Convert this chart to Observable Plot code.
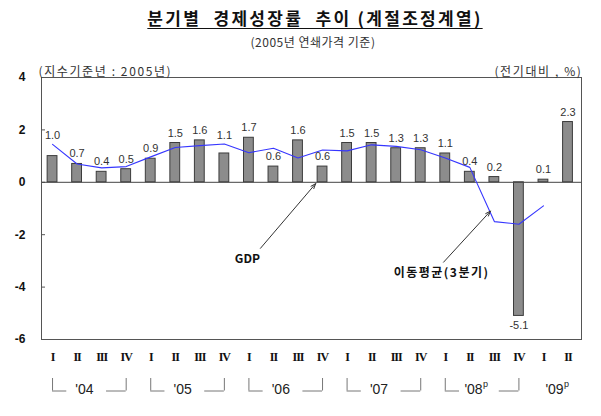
<!DOCTYPE html>
<html>
<head>
<meta charset="utf-8">
<script src="https://cdn.jsdelivr.net/npm/d3@7"></script>
<script src="https://cdn.jsdelivr.net/npm/@observablehq/plot@0.6"></script>
<style>
  body { margin: 0; background: #fff; }
  #wrap { width: 601px; height: 416px; position: relative; background: #fff; }
  #head { position: relative; width: 601px; height: 50px; }
  #title { position: absolute; left: 0; width: 630px; top: 8px; text-align: center;
    font-family: "Noto Sans CJK KR", sans-serif; font-weight: 700; font-size: 17px; line-height: 20px;
    letter-spacing: 2.3px; color: #111; }
  #title span { text-decoration: underline; text-underline-offset: 3px; text-decoration-thickness: 1px; }
  #subtitle { position: absolute; left: 0; width: 626px; top: 34px; text-align: center;
    font-family: "Noto Sans CJK KR", sans-serif; font-size: 12px; line-height: 16px; color: #333; letter-spacing: 0.5px; }
  g[aria-label="x-axis tick label"] text { letter-spacing: -1px; }
</style>
</head>
<body>
<div id="wrap">
  <div id="head">
    <div id="title"><span>분기별&nbsp; 경제성장률&nbsp; 추이 (계절조정계열)</span></div>
    <div id="subtitle">(2005년 연쇄가격 기준)</div>
  </div>
  <div id="chart"></div>
</div>
<script>
// ---- data ----
const quarterLabels = ["I","II","III","IV","I","II","III","IV","I","II","III","IV",
                       "I","II","III","IV","I","II","III","IV","I","II"];
const yearLabels = ["'04","'05","'06","'07","'08","'09"];
const yearPrelim = [false, false, false, false, true, true];
const gdp = [1.0, 0.7, 0.4, 0.5, 0.9, 1.5, 1.6, 1.1, 1.7, 0.6, 1.6, 0.6,
             1.5, 1.5, 1.3, 1.3, 1.1, 0.4, 0.2, -5.1, 0.1, 2.3];
const movingAvg = [1.45, 0.7, 0.55, 0.6, 0.97, 1.33, 1.4, 1.46, 1.13, 1.3, 0.93, 1.23,
                   1.2, 1.43, 1.37, 1.24, 0.93, 0.57, -1.5, -1.6, -0.9, null];
const yTicks = [-6, -4, -2, 0, 2, 4];
const leftNote = "(지수기준년 : 2005년)";
const rightNote = "(전기대비 , %)";
const annotations = [
  {label: "GDP", tx: 7.94, ty: -2.92, x1: 8.47, y1: -2.52, x2: 10.72, y2: -0.05},
  {label: "이동평균(3분기)", tx: 15.85, ty: -3.47, x1: 15.93, y1: -3.05, x2: 17.84, y2: -1.1}
];

// ---- layout ----
const W = 601, H = 366;
const mTop = 27, mBottom = 77, mLeft = 41, mRight = 20;
const pxPerUnit = (H - mTop - mBottom) / 10;
const px = p => p / pxPerUnit;          // pixels -> y data units
const yBr1 = -6 - px(39), yBr2 = -6 - px(51.5), yYear = -6 - px(50);

const rows = gdp.map((v, i) => ({i, q: quarterLabels[i], v, ma: movingAvg[i]}));
rows.forEach(d => {
  if (d.v >= 0) {
    let ly = d.v + px(10);
    if (d.ma != null && Math.abs(ly - d.ma) < px(5.5)) ly = d.ma + px(9);
    d.ly = ly;
  } else d.ly = d.v - px(10);
});

const years = yearLabels.map((label, k) => ({label, k, i0: 4 * k, i3: 4 * k + 3, p: yearPrelim[k]}));
const bracketYears = years.filter(d => d.k < 5);
const yearPos = d => d.k < 5 ? 4 * d.k + (d.p ? 1.15 : 1.3) : 20.45;

const font = "'Liberation Sans', 'Noto Sans CJK KR', sans-serif";
const krFont = "'Noto Sans CJK KR', sans-serif";

const chart = Plot.plot({
  width: W, height: H,
  marginTop: mTop, marginBottom: mBottom, marginLeft: mLeft, marginRight: mRight,
  style: {fontFamily: font, background: "#fff", overflow: "visible"},
  x: {type: "linear", domain: [-0.45, 21.55]},
  y: {domain: [-6, 4]},
  marks: [
    Plot.axisY({ticks: yTicks, tickSize: 0, tickPadding: 16, tickFormat: d => String(d),
      fontWeight: "bold", fontSize: 12, fill: "#111", label: null}),
    Plot.axisY({ticks: yTicks, tickSize: 4, dx: 4, tickFormat: () => "", stroke: "#555", label: null}),
    Plot.axisX({ticks: d3.range(22), tickSize: 0, tickPadding: 13, tickFormat: d => quarterLabels[d],
      fontFamily: "'Liberation Serif', serif", fontWeight: "bold", fontSize: 12, fill: "#111", label: null}),
    Plot.rect(rows, {x1: d => d.i - 0.2, x2: d => d.i + 0.2, y1: 0, y2: "v",
      fill: "#8c8c8c", stroke: "#3c3c3c", strokeWidth: 1}),
    Plot.ruleY([0], {stroke: "#444", strokeWidth: 1}),
    Plot.line(rows.filter(d => d.ma != null), {x: "i", y: "ma", stroke: "#3636ff", strokeWidth: 1.1}),
    Plot.text(rows, {x: "i", y: "ly", text: d => d.v.toFixed(1), fontSize: 11, fill: "#333"}),
    Plot.frame({stroke: "#555", strokeWidth: 1}),
    // annotations
    Plot.arrow(annotations, {x1: "x1", y1: "y1", x2: "x2", y2: "y2", stroke: "#333",
      strokeWidth: 1, headLength: 8, headAngle: 40}),
    Plot.text(annotations, {x: "tx", y: "ty", text: "label", fontWeight: "bold", fontSize: 12,
      fill: "#111", fontFamily: krFont}),
    // unit notes
    Plot.text([leftNote], {frameAnchor: "top-left", textAnchor: "start", dx: -3, dy: -10,
      fontSize: 12, fill: "#333", fontFamily: krFont}),
    Plot.text([rightNote], {frameAnchor: "top-right", textAnchor: "end", dx: 1, dy: -10,
      fontSize: 12, fill: "#333", fontFamily: krFont}),
    // year brackets
    Plot.ruleX(bracketYears, {x: "i0", y1: yBr1, y2: yBr2, stroke: "#777"}),
    Plot.ruleX(bracketYears, {x: "i3", y1: yBr1, y2: yBr2, stroke: "#777"}),
    Plot.ruleY(bracketYears, {y: yBr2, x1: "i0", x2: d => d.i0 + 0.58, stroke: "#777"}),
    Plot.ruleY(bracketYears, {y: yBr2, x1: d => d.i3 - 0.8, x2: "i3", stroke: "#777"}),
    Plot.text(years, {x: yearPos, y: yYear, text: "label", fontSize: 14, fill: "#222"}),
    Plot.text(years.filter(d => d.p), {x: yearPos, y: yYear, text: () => "p", fontSize: 9,
      fill: "#222", dx: 12, dy: -5})
  ]
});
// text letter-spacing tweaks
d3.select(chart).selectAll("text").each(function () {
  const t = this.textContent;
  if (t === leftNote || t === rightNote) this.style.letterSpacing = "1.6px";
  if (t === annotations[1].label) this.style.letterSpacing = "1.5px";
});
document.getElementById("chart").appendChild(chart);
</script>
</body>
</html>
